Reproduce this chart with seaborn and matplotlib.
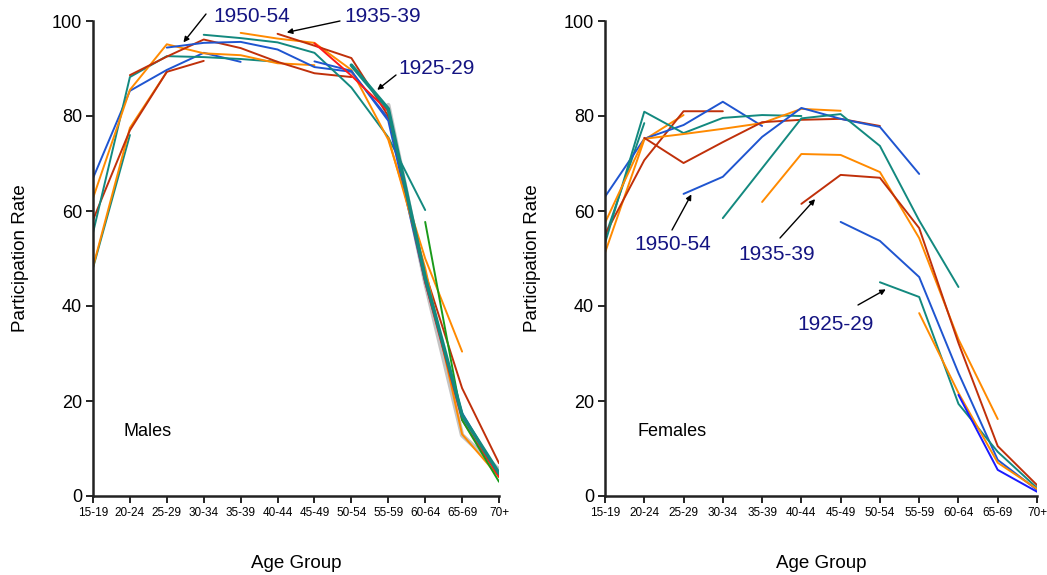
import numpy as np
import pandas as pd
import matplotlib
matplotlib.use("Agg")
import matplotlib.pyplot as plt
import seaborn as sns

nan = np.nan
age_groups = ["15-19", "20-24", "25-29", "30-34", "35-39", "40-44", "45-49",
              "50-54", "55-59", "60-64", "65-69", "70+"]

# ---- Males: participation rate by age group for each birth cohort ----
m_1985 = [48.0, 76.0] + [nan] * 10
m_1980 = [48.2, 77.5, 89.3] + [nan] * 9
m_1975 = [58.1, 77.0, 89.3, 91.6] + [nan] * 8
m_1970 = [66.9, 85.3, 89.7, 93.3, 91.4] + [nan] * 7
m_1965 = [55.4, 88.2, 92.6, 92.4, 92.0, 91.4] + [nan] * 6
m_1960 = [62.7, 85.5, 95.1, 93.2, 92.8, 91.1, 90.7] + [nan] * 5
m_1955 = [nan, 88.6, 92.5, 96.1, 94.3, 91.4, 89.0, 88.2] + [nan] * 4
m_1950 = [nan, nan, 94.4, 95.4, 95.6, 94.0, 90.3, 89.3, 79.5] + [nan] * 3
m_1945 = [nan] * 3 + [97.1, 96.4, 95.5, 93.3, 86.0, 75.5, 60.2] + [nan] * 2
m_1940 = [nan] * 4 + [97.5, 96.3, 95.4, 89.7, 75.0, 50.0, 30.4] + [nan]
m_1935 = [nan] * 5 + [97.3, 94.8, 92.2, 80.0, 47.0, 22.7, 6.9]
m_1930 = [nan] * 6 + [91.5, 89.5, 79.0, 45.0, 17.5, 4.5]
m_1925 = [nan] * 7 + [90.7, 81.5, 46.0, 17.0, 4.8]
m_1920 = [nan] * 8 + [75.5, 48.0, 13.0, 4.0]
m_extra_red = [nan] * 6 + [95.3, 88.5, 81.0, 45.0, 16.0, 4.0]
m_green = [nan] * 9 + [57.7, 16.0, 3.0]
m_gray = [nan] * 8 + [82.3, 45.0, 12.8, 5.5]

# ---- Females ----
f_1985 = [54.5, 78.5] + [nan] * 10
f_1980 = [51.2, 75.0, 80.2] + [nan] * 9
f_1975 = [55.0, 70.7, 81.0, 81.0] + [nan] * 8
f_1970 = [63.0, 75.2, 78.1, 83.0, 77.9] + [nan] * 7
f_1965 = [53.2, 80.9, 76.4, 79.6, 80.2, 80.0] + [nan] * 6
f_1960 = [57.5, 75.2, 76.2, 77.3, 78.5, 81.5, 81.1] + [nan] * 5
f_1955 = [nan, 75.4, 70.1, 74.5, 78.7, 79.2, 79.4, 77.9] + [nan] * 4
f_1950 = [nan, nan, 63.6, 67.2, 75.6, 81.7, 79.4, 77.7, 67.8] + [nan] * 3
f_1945 = [nan] * 3 + [58.5, 69.0, 79.5, 80.4, 73.7, 58.0, 44.0] + [nan] * 2
f_1940 = [nan] * 4 + [61.9, 72.0, 71.8, 68.2, 54.3, 33.0, 16.2] + [nan]
f_1935 = [nan] * 5 + [61.5, 67.6, 67.0, 56.4, 32.2, 10.5, 2.3]
f_1930 = [nan] * 6 + [57.7, 53.7, 46.1, 25.9, 7.6, 1.3]
f_1925 = [nan] * 7 + [45.0, 41.9, 19.4, 9.3, 1.7]
f_1920 = [nan] * 8 + [38.5, 21.7, 7.0, 1.5]
f_1915 = [nan] * 9 + [21.3, 5.5, 0.9]

BLUE = "#1f55d0"
TEAL = "#13897f"
ORANGE = "#ff8a00"
RED = "#c0300a"
BRED = "#ff1a1a"
GREEN = "#1a9a1a"
GRAY = "#c4c4c4"
NAVY = "#141482"

male_series = [
    (m_gray, GRAY, 3.2),
    (m_1985, TEAL, 1.4), (m_1980, ORANGE, 1.4), (m_1975, RED, 1.4),
    (m_1970, BLUE, 1.4), (m_1965, TEAL, 1.4), (m_1960, ORANGE, 1.4),
    (m_1955, RED, 1.4), (m_1950, BLUE, 1.4), (m_1945, TEAL, 1.4),
    (m_1940, ORANGE, 1.4), (m_1935, RED, 1.4), (m_1930, BLUE, 1.4),
    (m_1920, ORANGE, 1.4), (m_extra_red, BRED, 1.4), (m_green, GREEN, 1.4),
    (m_1925, TEAL, 2.6),
]
female_series = [
    (f_1985, TEAL, 1.4), (f_1980, ORANGE, 1.4), (f_1975, RED, 1.4),
    (f_1970, BLUE, 1.4), (f_1965, TEAL, 1.4), (f_1960, ORANGE, 1.4),
    (f_1955, RED, 1.4), (f_1950, BLUE, 1.4), (f_1945, TEAL, 1.4),
    (f_1940, ORANGE, 1.4), (f_1935, RED, 1.4), (f_1930, BLUE, 1.4),
    (f_1925, TEAL, 1.4), (f_1920, ORANGE, 1.4), (f_1915, "#1a1aff", 1.4),
]

sns.set_style("ticks")
plt.rcParams["font.family"] = ["Liberation Sans", "DejaVu Sans"]
plt.rcParams["text.color"] = "black"
plt.rcParams["axes.labelcolor"] = "black"
plt.rcParams["xtick.color"] = "black"
plt.rcParams["ytick.color"] = "black"

W, H = 1047, 575
fig = plt.figure(figsize=(W / 100, H / 100), dpi=100)
axL = fig.add_axes([93 / W, 79 / H, 406 / W, 475 / H])
axR = fig.add_axes([605 / W, 79 / H, 432 / W, 475 / H])

x_idx = np.arange(len(age_groups))


def draw(ax, series, title):
    for vals, col, lw in series:
        df = pd.DataFrame({"age": x_idx, "rate": vals}).dropna()
        sns.lineplot(data=df, x="age", y="rate", ax=ax, color=col,
                     linewidth=lw, estimator=None, sort=False)
    ax.set_xlim(0, 11)
    ax.set_ylim(0, 100)
    ax.set_xticks(x_idx)
    ax.set_xticklabels(age_groups, fontsize=8.5)
    ax.set_yticks([0, 20, 40, 60, 80, 100])
    ax.tick_params(axis="y", labelsize=13, length=5, width=1.2, pad=3,
                   colors="black")
    ax.tick_params(axis="x", length=5, width=1.2, pad=3, colors="black")
    for s in ["top", "right"]:
        ax.spines[s].set_visible(False)
    for s in ["left", "bottom"]:
        ax.spines[s].set_linewidth(1.8)
        ax.spines[s].set_color("#222222")
    ax.set_xlabel("Age Group", fontsize=13.5, labelpad=26, color="black")
    ax.set_ylabel("Participation Rate", fontsize=13.5, labelpad=16,
                  color="black")
    ax.text(0.075, 0.135, title, transform=ax.transAxes, fontsize=13,
            va="center", ha="left", color="black")


draw(axL, male_series, "Males")
draw(axR, female_series, "Females")

arrow = dict(arrowstyle="-|>", color="black", lw=1.0, mutation_scale=8,
             shrinkA=0, shrinkB=0)


def label(ax, text, tx, ty, tail, tip):
    # tx, ty, tail: pixel positions from the top-left; tip: data coords
    fig.text(tx / W, 1 - ty / H, text, fontsize=15, color=NAVY,
             va="center", ha="left")
    ax.annotate("", xy=tip, xytext=(tail[0], H - tail[1]),
                textcoords="figure pixels", arrowprops=arrow)


label(axL, "1950-54", 213, 16, (206, 14), (2.45, 95.5))
label(axL, "1935-39", 344, 17, (340, 21), (5.25, 97.6))
label(axL, "1925-29", 398, 69, (396, 75), (7.7, 85.5))

label(axR, "1950-54", 634, 245, (672, 230), (2.2, 63.5))
label(axR, "1935-39", 738, 254, (780, 238), (5.35, 62.5))
label(axR, "1925-29", 797, 324, (858, 305), (7.15, 43.5))

fig.savefig("out.png", dpi=100)
